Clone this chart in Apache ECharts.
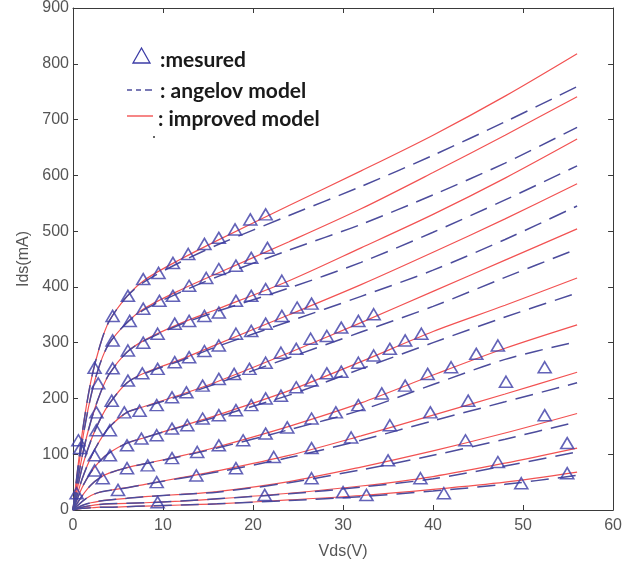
<!DOCTYPE html>
<html>
<head>
<meta charset="utf-8">
<script src="https://cdn.jsdelivr.net/npm/echarts@6/dist/echarts.min.js"></script>
<style>
  html, body { margin: 0; padding: 0; background: #fff; }
  #chart { width: 625px; height: 573px; }
</style>
</head>
<body>
<div id="chart"></div>
<script>
// Vds sample points used for the model curves
const vds = [0, 1, 2, 3, 4, 6, 8, 12, 16, 24, 32, 40, 48, 56]

// improved model (red), one row per Vgs step, top to bottom
const improvedIds = [
  [0, 135, 232, 295, 338, 383, 413, 450, 483, 546, 608, 672, 742, 818],
  [0, 120, 205, 262, 298, 336, 362, 395, 424, 481, 540, 605, 672, 741],
  [0, 95, 160, 208, 243, 283, 305, 335, 360, 411, 470, 530, 595, 665],
  [0, 75, 125, 162, 190, 228, 246, 270, 297, 350, 404, 462, 522, 585],
  [0, 55, 95, 125, 148, 175, 186, 207, 230, 282, 336, 392, 448, 504],
  [0, 40, 68, 88, 102, 120, 130, 150, 170, 214, 266, 320, 367, 416],
  [0, 25, 45, 58, 66, 76, 83, 97, 113, 150, 192, 242, 290, 332],
  [0, 15, 26, 32, 35, 40, 46, 58, 70, 98, 133, 170, 208, 247],
  [0, 8, 13, 16, 18, 21, 24, 28, 33, 51, 77, 106, 138, 173],
  [0, 5, 8, 10, 11, 12, 13, 16, 20, 30, 43, 60, 84, 111],
  [0, 3, 4, 5, 5, 6, 7, 9, 11, 18, 26, 37, 50, 68]
]

// angelov model (blue dashed)
const angelovIds = [
  [0, 135, 232, 295, 338, 383, 410, 445, 475, 528, 580, 636, 696, 759],
  [0, 120, 205, 262, 298, 336, 360, 391, 418, 466, 512, 565, 622, 686],
  [0, 95, 160, 208, 243, 283, 304, 333, 356, 398, 444, 498, 556, 617],
  [0, 75, 125, 162, 190, 228, 245, 268, 293, 338, 383, 430, 485, 545],
  [0, 55, 95, 125, 148, 175, 185, 205, 227, 273, 319, 365, 417, 468],
  [0, 40, 68, 88, 102, 120, 130, 149, 167, 206, 253, 300, 346, 389],
  [0, 25, 45, 58, 66, 76, 83, 96, 111, 144, 179, 225, 270, 302],
  [0, 15, 26, 32, 35, 40, 46, 57, 68, 94, 125, 160, 194, 228],
  [0, 8, 13, 16, 18, 21, 24, 28, 32, 49, 72, 98, 127, 158],
  [0, 5, 8, 10, 11, 12, 13, 16, 20, 29, 41, 56, 79, 104],
  [0, 3, 4, 5, 5, 6, 7, 9, 11, 17, 24, 34, 46, 62]
]

// measured points [Vds, Ids]
const measured = [
  [[0.6,125],[2.4,255],[4.4,348],[6.1,384],[7.8,414],[9.5,425],[11.1,443],[12.8,459],[14.6,477],[16.2,488],[18,503],[19.7,521],[21.4,530]],
  [[0.8,111],[2.8,227],[4.4,304],[6.3,339],[7.8,361],[9.6,375],[11.1,384],[12.9,402],[14.8,416],[16.2,432],[18.1,438],[19.8,452],[21.6,470]],
  [[2.6,175],[4.4,254],[6.1,286],[7.8,300],[9.4,316],[11.3,334],[12.9,339],[14.6,348],[16.2,354],[18.1,375],[19.8,384],[21.4,396],[23.2,411]],
  [[2.6,143],[4.3,196],[6.1,232],[7.7,245],[9.4,253],[11.3,265],[12.9,274],[14.6,285],[16.2,295],[18.1,316],[19.8,321],[21.4,334],[23.2,348],[24.9,363],[26.5,370]],
  [[2.4,98],[4.1,143],[5.7,175],[7.4,178],[9.3,188],[11,202],[12.6,211],[14.4,223],[16.2,235],[17.9,244],[19.6,253],[21.4,264],[23.1,282],[24.8,289],[26.4,307],[28.2,312],[29.8,327],[31.7,339],[33.4,351]],
  [[2.4,71],[4.1,98],[6,116],[7.6,128],[9.3,134],[11,146],[12.7,152],[14.4,164],[16.2,170],[18.1,179],[19.8,188],[21.4,200],[23.1,205],[24.8,220],[26.5,232],[28.2,245],[29.8,248],[31.7,264],[33.4,277],[35.2,289],[36.9,304],[38.7,316]],
  [[3.3,57],[6,75],[8.3,80],[11,93],[13.8,104],[16.2,116],[18.9,125],[21.4,137],[23.8,148],[26.5,164],[29.2,175],[31.7,188],[34.3,209],[36.9,223],[39.4,244],[42,256],[44.8,280],[47.2,295]],
  [[0.4,30],[5,36],[9.3,50],[13.7,62],[18.1,75],[22.3,95],[26.5,111],[30.9,130],[35.2,152],[39.7,175],[43.9,196],[48.1,230],[52.4,256]],
  [[26.5,57],[35,89],[43.6,125],[52.4,170]],
  [[9.4,14],[21.3,27],[38.6,57],[47.2,86],[54.9,120]],
  [[30,32],[32.6,27],[41.2,30],[49.8,48],[54.9,66]]
]

const xTicks = { min: 0, max: 60, interval: 10 }
const yTicks = { min: 0, max: 900, interval: 100 }

const RED = '#f25252'
const BLUE = '#4c4c9c'
const TRI = '#3c3ca6'

const pair = (ys) => vds.map((v, i) => [v, ys[i]])

const series = []
improvedIds.forEach((ys, k) => {
  series.push({
    name: 'improved ' + k, type: 'line', data: pair(ys),
    smooth: 0.3, showSymbol: false, silent: true,
    lineStyle: { color: RED, width: 1.2 }, z: 2
  })
})
angelovIds.forEach((ys, k) => {
  series.push({
    name: 'angelov ' + k, type: 'line', data: pair(ys),
    smooth: 0.3, showSymbol: false, silent: true,
    lineStyle: { color: BLUE, width: 1.5, type: [18, 9] }, z: 3
  })
})
measured.forEach((pts, k) => {
  series.push({
    name: 'measured ' + k, type: 'scatter', data: pts,
    symbol: 'triangle', symbolSize: [13, 11], silent: true,
    itemStyle: { color: 'rgba(0,0,0,0)', borderColor: TRI, borderWidth: 1.6 }, z: 4
  })
})

const axisCommon = {
  axisLine: { show: true, onZero: false, lineStyle: { color: '#3a3a3a', width: 1 } },
  axisTick: { show: true, inside: true, length: 5, lineStyle: { color: '#3a3a3a' } },
  splitLine: { show: false }
}

const legendFont = 'bold 21px Lato'

const chart = echarts.init(document.getElementById('chart'))
chart.setOption({
  animation: false,
  backgroundColor: '#fff',
  grid: { left: 73, right: 8, top: 6, bottom: 63 },
  xAxis: [
    Object.assign({
      type: 'value', position: 'bottom', ...xTicks,
      name: 'Vds(V)', nameLocation: 'middle', nameGap: 34,
      nameTextStyle: { color: '#555', fontSize: 16, fontFamily: 'Liberation Sans' },
      axisLabel: { color: '#555', fontSize: 16, margin: 8, fontFamily: 'Liberation Sans' }
    }, axisCommon),
    Object.assign({
      type: 'value', position: 'top', ...xTicks, axisLabel: { show: false }
    }, axisCommon)
  ],
  yAxis: [
    Object.assign({
      type: 'value', position: 'left', ...yTicks,
      name: 'Ids(mA)', nameLocation: 'middle', nameGap: 40,
      nameTextStyle: { color: '#555', fontSize: 16, fontFamily: 'Liberation Sans' },
      axisLabel: { color: '#555', fontSize: 16, margin: 4, fontFamily: 'Liberation Sans' }
    }, axisCommon),
    Object.assign({
      type: 'value', position: 'right', ...yTicks, axisLabel: { show: false }
    }, axisCommon)
  ],
  graphic: [
    { type: 'polygon', shape: { points: [[141.5, 48], [133, 63], [150, 63]] },
      style: { fill: 'none', stroke: TRI, lineWidth: 1.3 } },
    { type: 'text', x: 160, y: 60, style: { text: ':mesured', fill: '#1a1a1a',
      font: legendFont, verticalAlign: 'middle' } },
    { type: 'line', shape: { x1: 127, y1: 90, x2: 132, y2: 90 }, style: { stroke: BLUE, lineWidth: 1.5 } },
    { type: 'line', shape: { x1: 136, y1: 90, x2: 141, y2: 90 }, style: { stroke: BLUE, lineWidth: 1.5 } },
    { type: 'line', shape: { x1: 145, y1: 90, x2: 152, y2: 90 }, style: { stroke: BLUE, lineWidth: 1.5 } },
    { type: 'text', x: 160, y: 91, style: { text: ': angelov model', fill: '#1a1a1a',
      font: legendFont, verticalAlign: 'middle' } },
    { type: 'line', shape: { x1: 127, y1: 116, x2: 153, y2: 116 }, style: { stroke: RED, lineWidth: 1.4 } },
    { type: 'text', x: 158, y: 119, style: { text: ': improved model', fill: '#1a1a1a',
      font: legendFont, verticalAlign: 'middle' } },
    { type: 'circle', shape: { cx: 154, cy: 137, r: 1 }, style: { fill: '#333' } }
  ],
  series
})
</script>
</body>
</html>
